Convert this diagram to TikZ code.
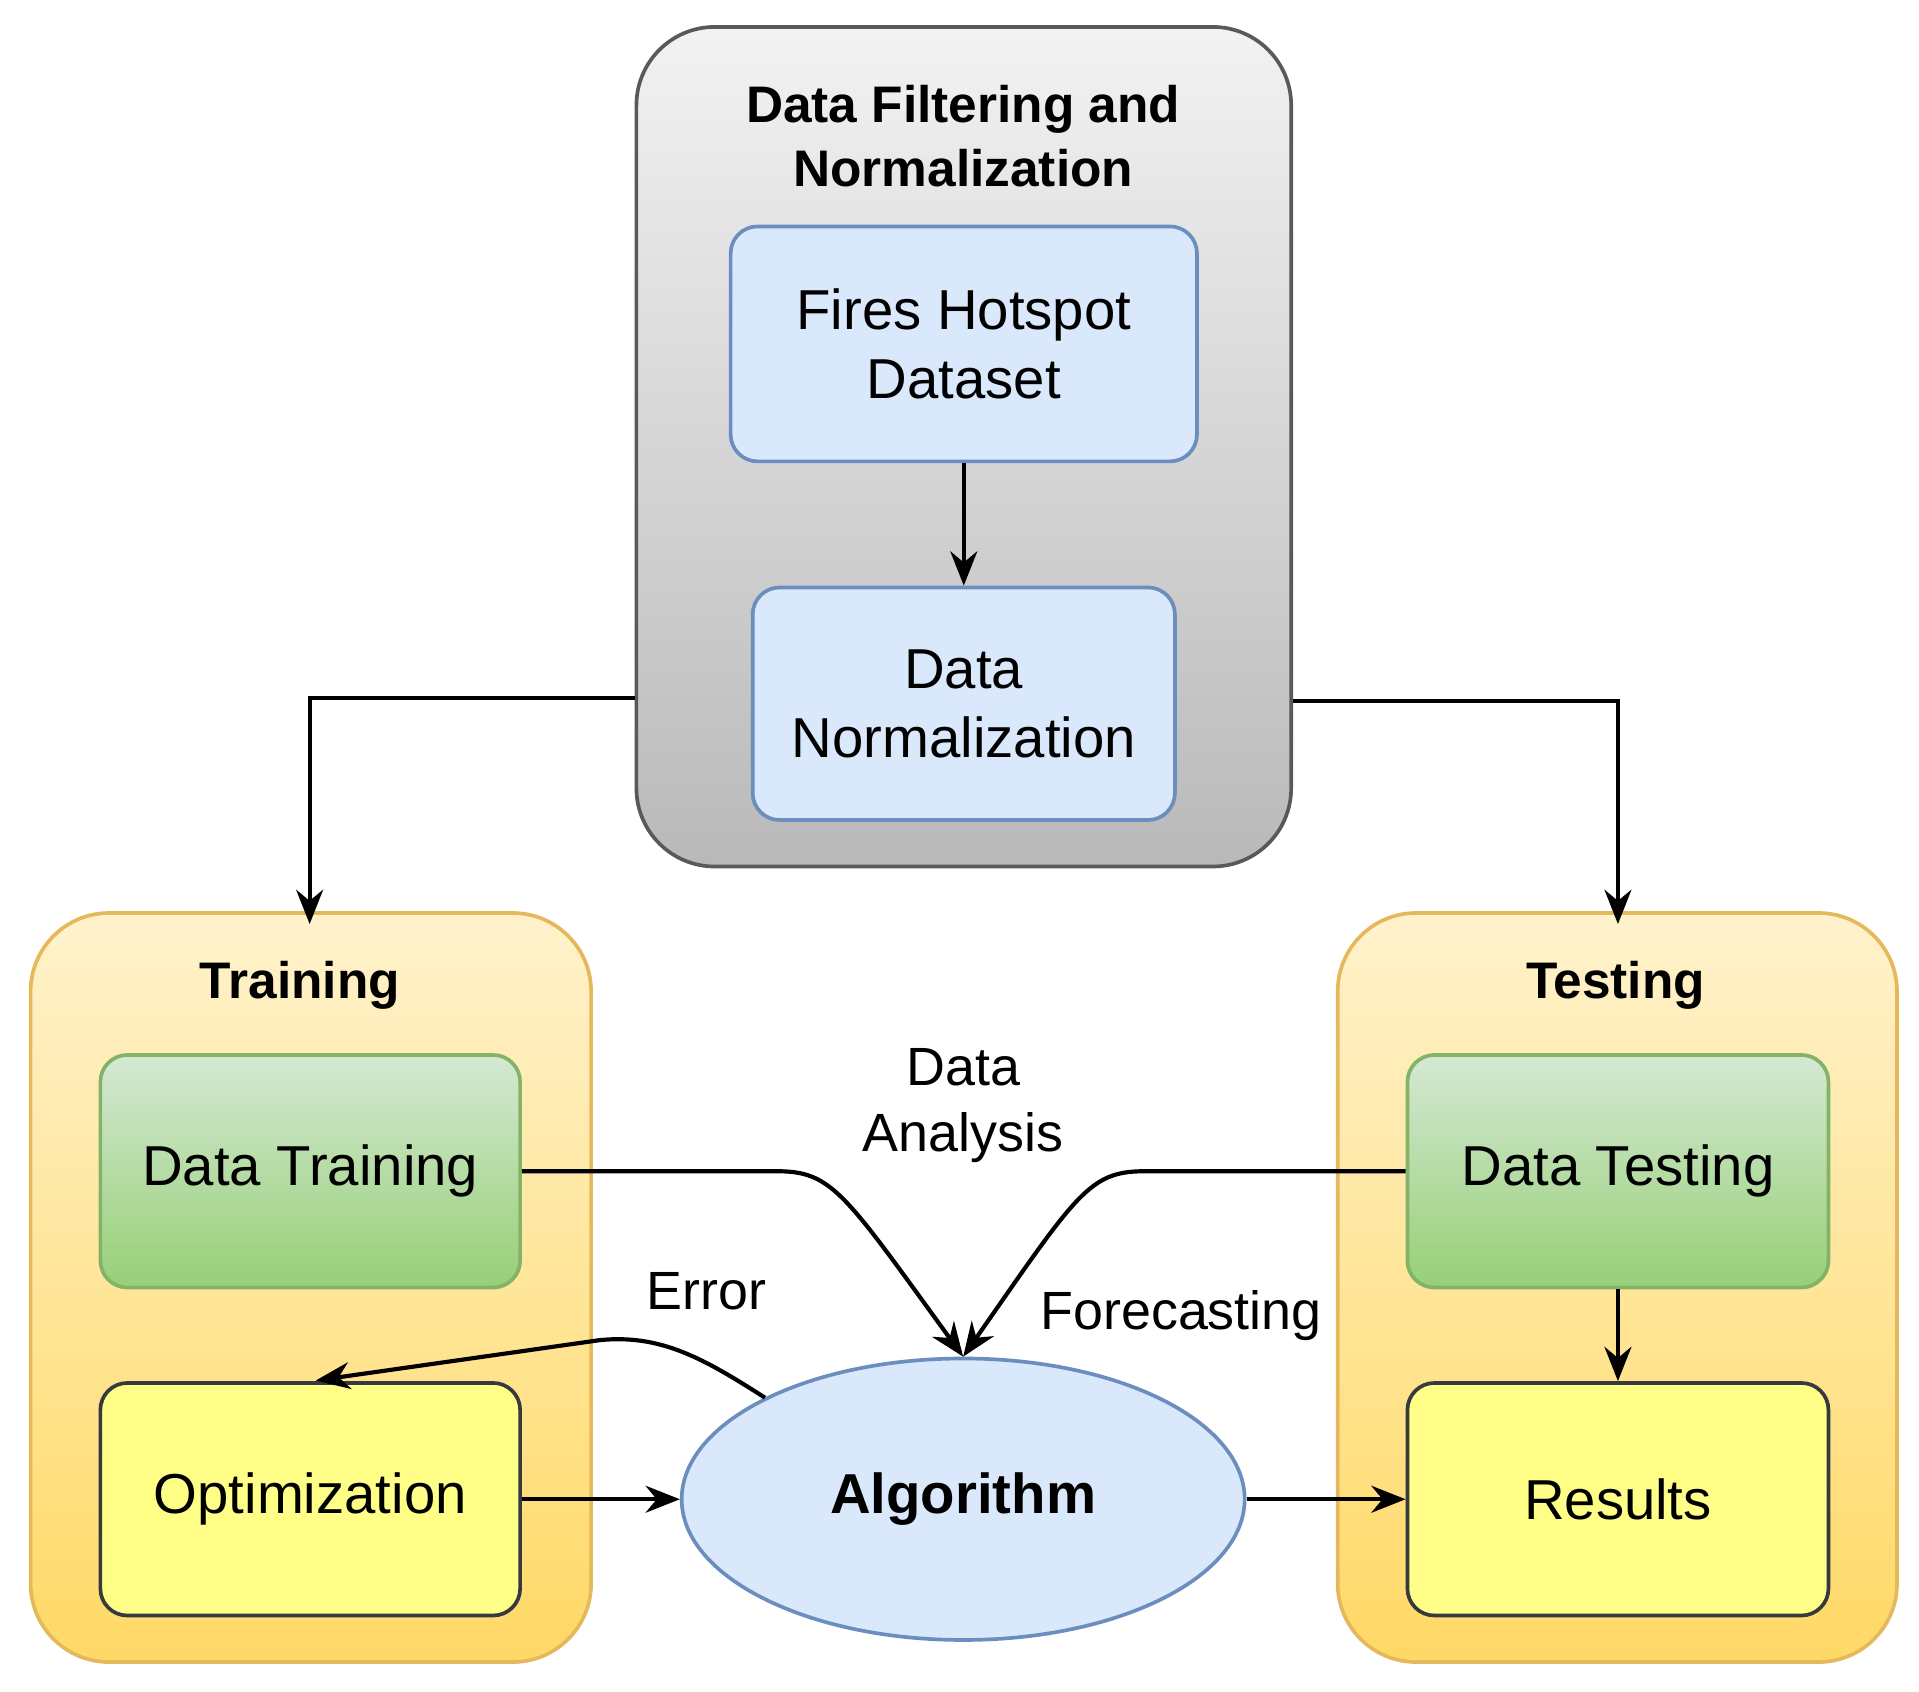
\documentclass[tikz,border=0pt]{standalone}
\usepackage{fontspec}
\setmainfont{Liberation Sans}
\usetikzlibrary{arrows.meta,shapes.geometric}
\begin{document}
\begin{tikzpicture}[x=0.5pt,y=-0.5pt,
  box/.style={draw,line width=1.5pt,rounded corners=11pt,align=center,inner sep=0,font=\fontsize{23}{28}\selectfont},
  cont/.style={draw,line width=1.5pt,rounded corners=32pt,inner sep=0},
  con/.style={line width=1.7pt,-{Stealth[length=14pt,width=11pt]}},
  lbl/.style={align=center,font=\fontsize{22}{27}\selectfont},
  ttl/.style={align=center,font=\bfseries\fontsize{21}{26}\selectfont}]
\useasboundingbox (0,0) rectangle (1568,1382);
\definecolor{lb}{HTML}{DAE8FC}\definecolor{lbd}{HTML}{6C8EBF}
\definecolor{oy1}{HTML}{FFF2CC}\definecolor{oy2}{HTML}{FFD966}\definecolor{oyd}{HTML}{E6B85C}
\definecolor{g1}{HTML}{D5E8D4}\definecolor{g2}{HTML}{97D077}\definecolor{gd}{HTML}{82B366}
\definecolor{yl}{HTML}{FFFF88}\definecolor{yd}{HTML}{36393D}
% containers
\node[cont,draw=gray!70!black,top color=gray!10,bottom color=gray!55,minimum width=267.5pt,minimum height=343pt] (top) at (787.5,365) {};
\node[cont,draw=oyd,top color=oy1,bottom color=oy2,minimum width=229pt,minimum height=306pt] (train) at (254,1052) {};
\node[cont,draw=oyd,top color=oy1,bottom color=oy2,minimum width=228.5pt,minimum height=306pt] (test) at (1321.5,1052) {};
\node[ttl] (ttop) at (787,111) {Data Filtering and\\Normalization};
\node[ttl] (ttr) at (245,805) {Training};
\node[ttl] (tte) at (1320,805) {Testing};
% inner boxes
\node[box,fill=lb,draw=lbd,minimum width=190.5pt,minimum height=96pt] (fires) at (787.5,281) {Fires Hotspot\\Dataset};
\node[box,fill=lb,draw=lbd,minimum width=172.5pt,minimum height=95pt] (norm) at (787.5,575) {Data\\Normalization};
\node[box,draw=gd,top color=g1,bottom color=g2,minimum width=171.5pt,minimum height=95pt] (dtr) at (253.5,957) {Data Training};
\node[box,draw=gd,top color=g1,bottom color=g2,minimum width=172pt,minimum height=95pt] (dte) at (1322,957) {Data Testing};
\node[box,fill=yl,draw=yd,minimum width=171.5pt,minimum height=95pt] (opt) at (253.5,1225) {Optimization};
\node[box,fill=yl,draw=yd,minimum width=172pt,minimum height=95pt] (res) at (1322,1225) {Results};
\node[ellipse,draw=lbd,fill=lb,line width=1.5pt,minimum width=230pt,minimum height=115pt,inner sep=0,font=\bfseries\fontsize{23}{28}\selectfont] (alg) at (787,1225) {Algorithm};
% labels
\node[lbl] (la) at (787,903) {Data\\Analysis};
\node[lbl] (le) at (577,1055) {Error};
\node[lbl] (lf) at (965,1075) {Forecasting};
% connectors
\draw[con] (fires.south) -- (norm.north);
\coordinate (lc) at (253,570);
\coordinate (rc) at (1322,573);
\coordinate (es) at (625,1142);
\draw[con] (top.west |- lc) -- (lc) -- (253,755);
\draw[con] (top.east |- rc) -- (rc) -- (1322,755);
\draw[con] (dtr.east) -- (635,957) .. controls (680,957) and (690,975) .. (alg.north);
\draw[con] (dte.west) -- (935,957) .. controls (890,957) and (880,975) .. (alg.north);
\draw[con] (es) .. controls (575,1110) and (540,1090) .. (490,1095) -- (258,1128);
\draw[con] (opt.east) -- (alg.west);
\draw[con] (alg.east) -- (res.west);
\draw[con] (dte.south) -- (res.north);
\end{tikzpicture}
\end{document}
